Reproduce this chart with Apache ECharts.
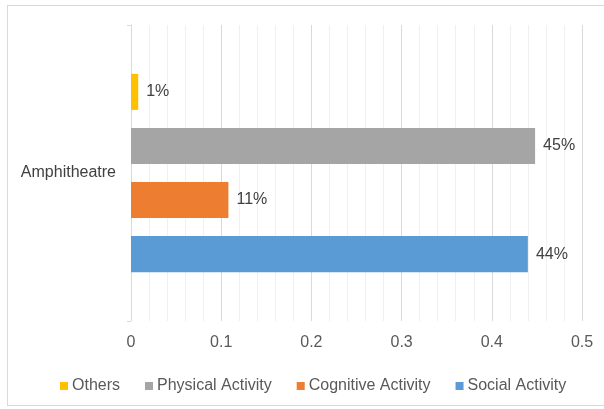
<!DOCTYPE html>
<html>
<head>
<meta charset="utf-8">
<script src="https://cdn.jsdelivr.net/npm/echarts@6/dist/echarts.min.js"></script>
<style>
  html, body { margin: 0; padding: 0; background: #fff; }
  #frame { position: absolute; left: 7px; top: 5px; width: 600px; height: 401px; border: 1px solid #d9d9d9; box-sizing: border-box; }
  #chart { position: absolute; left: 0; top: 0; width: 604px; height: 409px; }
</style>
</head>
<body>
<div id="frame"></div>
<div id="chart"></div>
<script>
// values (top bar first)
const categories = ['Amphitheatre'];
const seriesNames = ['Others', 'Physical Activity', 'Cognitive Activity', 'Social Activity'];
const others = [0.008];
const physicalActivity = [0.448];
const cognitiveActivity = [0.108];
const socialActivity = [0.44];
const xTicks = [0, 0.1, 0.2, 0.3, 0.4, 0.5];

const colors = ['#FFC000', '#A5A5A5', '#ED7D31', '#5B9BD5'];
const values = [others, physicalActivity, cognitiveActivity, socialActivity];
const font = 'Liberation Sans, Arial, sans-serif';

const chart = echarts.init(document.getElementById('chart'));

const option = {
  animation: false,
  textStyle: { fontFamily: font },
  grid: { left: 131, right: 22, top: 25, bottom: 88 },
  legend: {
    data: seriesNames,
    left: 55,
    top: 373,
    icon: 'rect',
    itemWidth: 8,
    itemHeight: 8,
    itemGap: 25,
    textStyle: { color: '#595959', fontSize: 16, fontFamily: font, padding: [0, 0, 0, -1] }
  },
  xAxis: {
    type: 'value',
    min: xTicks[0],
    max: xTicks[xTicks.length - 1],
    interval: 0.1,
    axisLine: { show: false },
    axisTick: { show: false },
    axisLabel: { color: '#595959', fontSize: 16, margin: 14, fontFamily: font },
    splitLine: { lineStyle: { color: '#d9d9d9', width: 1 } },
    minorTick: { show: false, splitNumber: 5 },
    minorSplitLine: { show: true, lineStyle: { color: '#f0f0f0', width: 1 } }
  },
  yAxis: {
    type: 'category',
    data: categories,
    axisLine: { lineStyle: { color: '#d9d9d9' } },
    axisTick: { show: true, length: 4, lineStyle: { color: '#d9d9d9' } },
    axisLabel: { color: '#404040', fontSize: 16, margin: 15, fontFamily: font }
  },
  series: seriesNames.map((name, i) => ({
    name,
    type: 'bar',
    data: values[i],
    barCategoryGap: '33%',
    barGap: '50%',
    itemStyle: { color: colors[i] },
    label: {
      show: true,
      position: 'right',
      distance: 8,
      color: '#404040',
      fontSize: 16,
      fontFamily: font,
      formatter: p => Math.round(p.value * 100) + '%'
    }
  }))
};

chart.setOption(option);
</script>
</body>
</html>
